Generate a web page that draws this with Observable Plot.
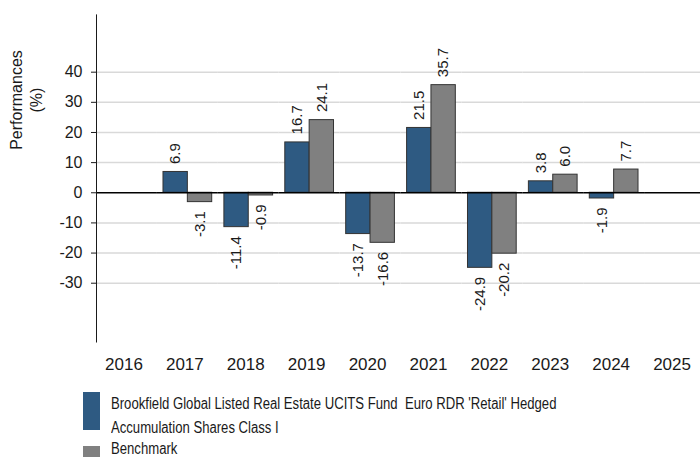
<!DOCTYPE html>
<html>
<head>
<meta charset="utf-8">
<script src="https://cdn.jsdelivr.net/npm/d3@7"></script>
<script src="https://cdn.jsdelivr.net/npm/@observablehq/plot@0.6"></script>
<style>
  body { margin: 0; background: #fff; font-family: "Liberation Sans", Arial, sans-serif; color: #1a1a1a; }
  #wrap { position: relative; width: 700px; height: 457px; overflow: hidden; background: #fff; }
  #chart { position: absolute; left: 0; top: 0; }
  .ylab { position: absolute; left: 27px; top: 100px; transform: translate(-50%, -50%) rotate(-90deg);
          font-size: 16px; line-height: 20px; text-align: center; white-space: nowrap; }
  .sw { position: absolute; left: 83px; width: 17px; }
  .lg { position: absolute; left: 111px; font-size: 16px; line-height: 24px; white-space: pre;
        transform: scaleX(0.82); transform-origin: 0 0; }
</style>
</head>
<body>
<div id="wrap">
  <div id="chart"></div>
  <div class="ylab" id="ylab"></div>
  <div class="sw" id="sw1" style="top:392px;height:38px;"></div>
  <div class="lg" id="lg1" style="top:392px;"></div>
  <div class="sw" id="sw2" style="top:446px;height:14px;"></div>
  <div class="lg" id="lg2" style="top:437px;"></div>
</div>
<script>
const years = [2016, 2017, 2018, 2019, 2020, 2021, 2022, 2023, 2024, 2025];
const fundLines = ["Brookfield Global Listed Real Estate UCITS Fund  Euro RDR 'Retail' Hedged", "Accumulation Shares Class I"];
const benchName = "Benchmark";
const fundReturns = [null, 6.9, -11.4, 16.7, -13.7, 21.5, -24.9, 3.8, -1.9, null];
const benchReturns = [null, -3.1, -0.9, 24.1, -16.6, 35.7, -20.2, 6.0, 7.7, null];
const yTicks = [-30, -20, -10, 0, 10, 20, 30, 40];
const gridValues = [-30, -20, -10, 10, 20, 30, 40];
const yLabelLines = ["Performances", "(%)"];
const seriesKeys = ["fund", "bench"];
const seriesColors = ["#2E5A82", "#808080"];

// every year gets a row (null values keep the empty 2016/2025 facets in place)
const rows = [];
years.forEach((yr, i) => {
  rows.push({year: yr, series: "fund", value: fundReturns[i]});
  rows.push({year: yr, series: "bench", value: benchReturns[i]});
});
const valued = rows.filter(d => d.value != null);

const chart = Plot.plot({
  width: 700,
  height: 385,
  marginLeft: 96,
  marginRight: -5,
  marginTop: 14.4,
  marginBottom: 43.5,
  style: { fontFamily: "Liberation Sans, Arial, sans-serif", fontSize: "16px", color: "#1a1a1a", background: "white", overflow: "visible" },
  fx: { domain: years, paddingInner: 0, paddingOuter: 0, round: false, label: null },
  x: { domain: seriesKeys, paddingInner: 0, paddingOuter: 0.25, round: false, axis: null },
  y: { domain: [-49.5, 59], label: null },
  color: { domain: seriesKeys, range: seriesColors },
  marks: [
    Plot.ruleY(gridValues, { stroke: "#d9d9d9", strokeWidth: 1.5 }),
    Plot.barY(rows, { fx: "year", x: "series", y: "value", fill: "series", stroke: "#333", strokeWidth: 1 }),
    Plot.ruleY([0], { stroke: "#000", strokeWidth: 1.5 }),
    Plot.text(valued.filter(d => d.value >= 0), {
      fx: "year", x: "series", y: "value", text: d => d.value.toFixed(1),
      rotate: -90, textAnchor: "start", dy: -8, fontSize: 15, fill: "#1a1a1a"
    }),
    Plot.text(valued.filter(d => d.value < 0), {
      fx: "year", x: "series", y: "value", text: d => d.value.toFixed(1),
      rotate: -90, textAnchor: "end", dy: 9, fontSize: 15, fill: "#1a1a1a"
    }),
    Plot.axisY({ ticks: yTicks, tickFormat: d => String(d), tickSize: 5, tickPadding: 9, label: null, fontSize: 16 }),
    Plot.axisFx({ anchor: "bottom", tickFormat: d => String(d), tickSize: 0, tickPadding: 16, dx: -3, label: null, fontSize: 17 }),
    Plot.frame({ anchor: "left", facet: "super", stroke: "#1a1a1a" })
  ]
});
document.getElementById("chart").appendChild(chart);

document.getElementById("ylab").innerHTML = yLabelLines.join("<br>");
document.getElementById("sw1").style.background = seriesColors[0];
document.getElementById("sw2").style.background = seriesColors[1];
document.getElementById("lg1").textContent = fundLines.join("\n");
document.getElementById("lg2").textContent = benchName;
</script>
</body>
</html>
